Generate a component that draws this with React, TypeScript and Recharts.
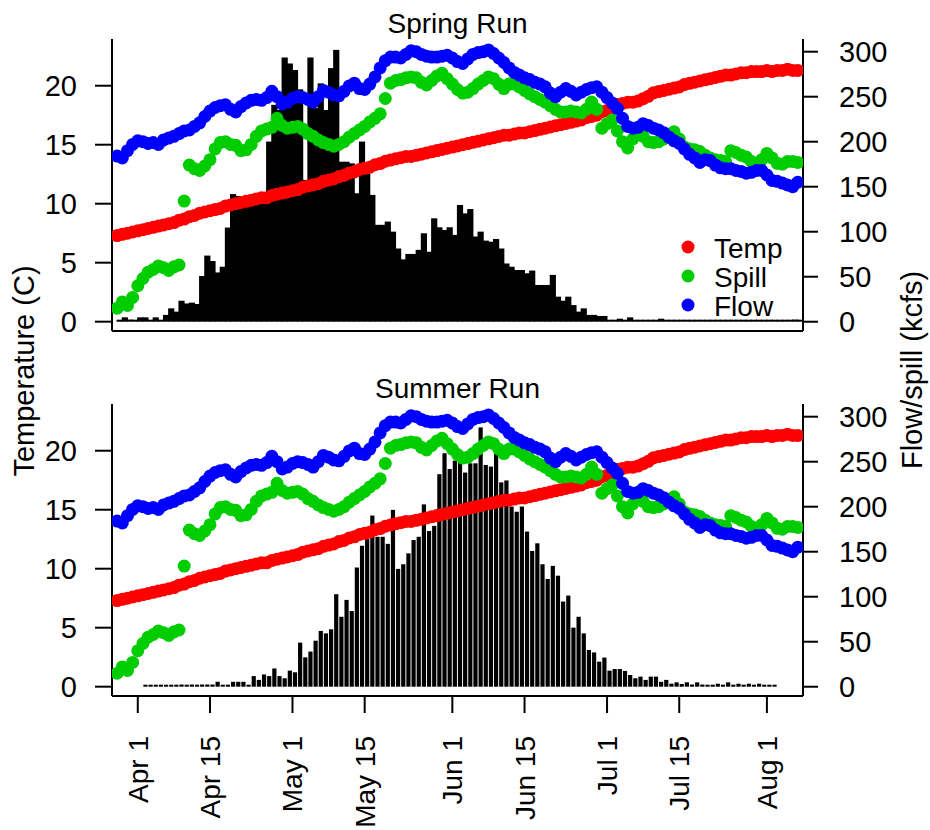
import { Bar, ComposedChart, Legend, Scatter, XAxis, YAxis } from "recharts";

const RED = "#ff0000";
const GREEN = "#00cd00";
const BLUE = "#0000ff";
const FONT = '"Liberation Sans", Arial, Helvetica, sans-serif';

const DAY_MS = 86400000;
// day number counted from Apr 1 (the year plays no role between March and August)
const dayOf = (month: number, day: number) =>
  Math.round((Date.UTC(2001, month - 1, day) - Date.UTC(2001, 3, 1)) / DAY_MS);

const SERIES_START = dayOf(3, 28);
const SUMMER_START = dayOf(4, 2);

const TICK_DATES = [[4, 1], [4, 15], [5, 1], [5, 15], [6, 1], [6, 15], [7, 1], [7, 15], [8, 1]];
const TICK_LABELS = ["Apr 1", "Apr 15", "May 1", "May 15", "Jun 1", "Jun 15", "Jul 1", "Jul 15", "Aug 1"];
const TEMP_TICKS = [0, 5, 10, 15, 20];
const FLOW_TICKS = [0, 50, 100, 150, 200, 250, 300];

// daily river temperature (C), Mar 28 .. Aug 7
const TEMP = [
  7.3, 7.4, 7.5, 7.6, 7.7, 7.8, 7.9, 8.0, 8.1, 8.2,
  8.3, 8.4, 8.6, 8.7, 8.9, 9.0, 9.2, 9.3, 9.4, 9.5,
  9.6, 9.8, 9.9, 10.0, 10.1, 10.2, 10.3, 10.4, 10.5, 10.5,
  10.7, 10.8, 10.9, 11.0, 11.1, 11.2, 11.4, 11.5, 11.6, 11.7,
  11.9, 12.0, 12.1, 12.3, 12.4, 12.6, 12.7, 12.9, 13.0, 13.1,
  13.3, 13.4, 13.6, 13.7, 13.8, 13.9, 14.0, 14.0, 14.1, 14.2,
  14.3, 14.4, 14.5, 14.6, 14.7, 14.8, 14.9, 15.0, 15.1, 15.2,
  15.3, 15.4, 15.5, 15.6, 15.7, 15.8, 15.8, 15.9, 16.0, 16.0,
  16.1, 16.2, 16.3, 16.4, 16.5, 16.6, 16.7, 16.8, 16.9, 17.0,
  17.1, 17.3, 17.4, 17.5, 17.8, 17.9, 18.1, 18.4, 18.5, 18.6,
  18.6, 18.7, 18.9, 19.1, 19.4, 19.5, 19.6, 19.7, 19.8, 19.9,
  20.1, 20.2, 20.3, 20.4, 20.5, 20.6, 20.7, 20.8, 20.9, 20.9,
  21.0, 21.1, 21.1, 21.2, 21.2, 21.2, 21.3, 21.2, 21.3, 21.3,
  21.4, 21.3, 21.3,
];

// daily spill (kcfs)
const SPILL = [
  15, 22, 18, 27, 40, 48, 55, 58, 62, 60,
  57, 61, 63, 134, 174, 170, 168, 173, 180, 192,
  199, 200, 197, 196, 190, 191, 197, 206, 212, 214,
  216, 226, 218, 215, 216, 217, 214, 209, 206, 202,
  199, 197, 195, 197, 200, 205, 209, 213, 217, 222,
  226, 231, 248, 265, 268, 269, 271, 272, 271, 266,
  263, 268, 273, 276, 270, 264, 258, 254, 255, 259,
  264, 268, 272, 270, 264, 259, 264, 264, 261, 257,
  253, 250, 247, 244, 240, 236, 233, 233, 234, 233,
  232, 236, 244, 236, 215, 220, 224, 212, 200, 193,
  203, 211, 206, 200, 199, 200, 203, 207, 211, 203,
  194, 192, 191, 189, 185, 182, 180, 179, 178, 190,
  188, 185, 183, 178, 174, 180, 187, 182, 176, 175,
  178, 178, 177,
];

// daily river flow (kcfs)
const FLOW = [
  184, 182, 190, 197, 201, 200, 198, 199, 197, 202,
  204, 206, 209, 212, 213, 217, 221, 228, 234, 238,
  240, 241, 236, 233, 239, 243, 246, 247, 246, 249,
  256, 250, 242, 244, 248, 250, 249, 247, 244, 250,
  257, 255, 252, 251, 256, 262, 265, 259, 258, 264,
  272, 282, 290, 294, 294, 293, 297, 301, 300, 297,
  295, 294, 294, 295, 296, 293, 289, 287, 292, 297,
  299, 300, 302, 298, 293, 288, 282, 277, 274, 271,
  269, 266, 264, 261, 254, 250, 255, 259, 256, 252,
  255, 258, 260, 261, 255, 249, 243, 237, 226, 217,
  215, 216, 220, 218, 215, 213, 210, 205, 201, 198,
  192, 186, 182, 177, 180, 179, 174, 171, 170, 170,
  168, 167, 165, 166, 168, 168, 163, 157, 156, 154,
  152, 150, 155,
];

// daily spring run passage, % of the peak day, Mar 28 .. Aug 7
const SPRING_PASSAGE = [
  0.6, 1.6, 0.8, 0.6, 1.6, 1.6, 0.6, 1.6, 0.6, 2.5,
  4.9, 3.7, 7.7, 6.7, 7.0, 6.5, 16.8, 24.3, 22.3, 18.1,
  20.2, 34.6, 46.9, 46.2, 44.7, 44.7, 45.2, 46.0, 47.6, 66.2,
  79.7, 77.8, 97.1, 94.9, 92.5, 85.4, 52.1, 97.1, 78.5, 87.6,
  77.8, 93.2, 99.9, 58.8, 58.8, 58.2, 47.2, 66.2, 54.5, 46.6,
  35.6, 35.6, 36.8, 33.1, 26.9, 22.9, 24.9, 24.9, 26.4, 32.5,
  25.7, 38.0, 34.7, 33.7, 34.7, 31.9, 42.9, 39.8, 41.4, 31.3,
  33.1, 29.8, 29.4, 30.4, 26.9, 21.4, 20.2, 19.0, 19.0, 17.8,
  18.8, 13.5, 13.5, 13.5, 17.2, 9.2, 7.7, 9.2, 6.1, 3.7,
  4.9, 2.5, 2.5, 2.1, 2.1, 0.6, 0.6, 1.1, 0, 1.6,
  0, 0, 0, 0, 0, 1.1, 0, 0, 0, 0,
  0, 0, 0, 0, 0, 0, 0, 0, 0, 0.6,
  0, 0.6, 0, 0, 0, 0, 0, 0, 0, 0,
  0, 0.8, 0,
];

// daily summer run passage, % of the spring peak day, Apr 2 .. Aug 2
const SUMMER_PASSAGE = [
  0, 0, 0, 0, 0, 0, 0, 0.8, 0, 0.8,
  0, 0.8, 0.8, 0.8, 1.8, 0, 0, 1.8, 1.8, 1.8,
  0, 3.9, 2.5, 4.5, 3.9, 6.7, 3.9, 3.1, 5.9, 5.3,
  16.2, 10.8, 12.9, 16.9, 20.5, 19.6, 21.1, 34.0, 25.7, 31.9,
  27.8, 43.8, 51.8, 54.3, 62.9, 55.1, 55.1, 52.5, 65.0, 43.3,
  45.0, 49.0, 53.9, 55.1, 67.0, 57.2, 59.1, 78.1, 85.8, 80.0,
  83.1, 82.7, 78.7, 82.1, 82.1, 95.3, 81.5, 80.9, 86.1, 75.1,
  75.8, 66.2, 64.3, 66.2, 57.0, 49.9, 52.7, 45.0, 39.6, 44.4,
  40.8, 31.3, 33.5, 21.7, 25.7, 19.6, 13.5, 12.6, 9.2, 10.7,
  5.9, 6.5, 6.5, 5.8, 4.3, 3.1, 3.7, 2.5, 3.7, 3.7,
  1.8, 2.5, 1.1, 1.6, 1.0, 1.6, 0.8, 1.6, 0.8, 0,
  0, 1.1, 0, 1.6, 0, 1.1, 0, 1.1, 0, 1.1,
  0, 0, 0,
];

const SERIES = [
  { key: "temp", name: "Temp", color: RED, axis: "temp" },
  { key: "spill", name: "Spill", color: GREEN, axis: "flow" },
  { key: "flow", name: "Flow", color: BLUE, axis: "flow" },
];

const TICK_DAYS = TICK_DATES.map(([m, d]) => dayOf(m, d));
const X_DOMAIN = [dayOf(3, 27), dayOf(8, 8)];
// passage bins run from day d to d + 1, so their axis is shifted half a day
const BIN_DOMAIN = [X_DOMAIN[0] - 0.5, X_DOMAIN[1] - 0.5];
const TEMP_DOMAIN = [-0.79, 23.96];
const FLOW_DOMAIN = [-10.3, 314.1];
const PASSAGE_DOMAIN = [-3.42, 103.9];

const PLOT_TOP = 39;
const PLOT_HEIGHT = 292;

interface Row {
  day: number;
  temp: number;
  spill: number;
  flow: number;
  fish: number | null;
}

function buildRows(passage: number[], passageStart: number): Row[] {
  return TEMP.map((temp, i) => {
    const day = SERIES_START + i;
    const k = day - passageStart;
    return {
      day,
      temp,
      spill: SPILL[i],
      flow: FLOW[i],
      fish: k >= 0 && k < passage.length ? passage[k] : null,
    };
  });
}

const axisLine = { stroke: "#000", strokeWidth: 2 };
const tickText = { fontSize: 29, fill: "#000" };

const dot = (color: string) => (props: any) =>
  props.cx == null || props.cy == null ? <g /> : <circle cx={props.cx} cy={props.cy} r={6.5} fill={color} />;

// zero days still leave a thin mark on the baseline, like the original
const binShape = (barWidth: number) => (props: any) => {
  const { x, y, width, height, payload } = props;
  if (payload == null || payload.fish == null || x == null) return <g />;
  const h = Math.max(height || 0, 2);
  const cx = x + (width || 0) / 2;
  return <rect x={cx - barWidth / 2} y={y + (height || 0) - h} width={barWidth} height={h} fill="#000" />;
};

const renderDateTick = (props: any) => {
  const { x, y, payload } = props;
  const label = TICK_LABELS[TICK_DAYS.indexOf(payload.value)];
  return (
    <text transform={`translate(${x + 10},${y + 23}) rotate(-90)`} textAnchor="end" fontSize={28} fill="#000">
      {label}
    </text>
  );
};

const renderLegend = () => (
  <svg width={150} height={110}>
    {SERIES.map((s, i) => (
      <g key={s.key}>
        <circle cx={28} cy={27 + i * 29} r={6.5} fill={s.color} />
        <text x={54} y={37.5 + i * 29} fontSize={28} fill="#000">
          {s.name}
        </text>
      </g>
    ))}
  </svg>
);

interface PanelProps {
  rows: Row[];
  top: number;
  height: number;
  dates?: boolean;
  barWidth: number;
  legend?: boolean;
}

function RunPanel({ rows, top, height, dates = false, barWidth, legend = false }: PanelProps) {
  return (
    <div style={{ position: "absolute", left: 0, top }}>
      <ComposedChart width={930} height={height} data={rows} margin={{ top: PLOT_TOP, right: 0, bottom: 0, left: 0 }}>
        <XAxis
          xAxisId="date"
          dataKey="day"
          type="number"
          domain={X_DOMAIN}
          allowDataOverflow
          ticks={dates ? TICK_DAYS : []}
          interval={0}
          height={height - PLOT_TOP - PLOT_HEIGHT}
          axisLine={axisLine}
          tickLine={dates ? axisLine : false}
          tickSize={17}
          tickMargin={0}
          tick={dates ? renderDateTick : false}
        />
        <XAxis xAxisId="bins" dataKey="day" type="number" domain={BIN_DOMAIN} allowDataOverflow hide height={0} />
        <YAxis
          yAxisId="temp"
          orientation="left"
          width={112}
          domain={TEMP_DOMAIN}
          allowDataOverflow
          ticks={TEMP_TICKS}
          interval={0}
          axisLine={axisLine}
          tickLine={axisLine}
          tickSize={17}
          tickMargin={18}
          tick={tickText}
        />
        <YAxis
          yAxisId="flow"
          orientation="right"
          width={127}
          domain={FLOW_DOMAIN}
          allowDataOverflow
          ticks={FLOW_TICKS}
          interval={0}
          axisLine={axisLine}
          tickLine={axisLine}
          tickSize={15}
          tickMargin={21}
          tick={tickText}
        />
        <YAxis yAxisId="fish" hide width={0} domain={PASSAGE_DOMAIN} allowDataOverflow />
        <Bar
          xAxisId="bins"
          yAxisId="fish"
          dataKey="fish"
          fill="#000"
          barSize={5}
          shape={binShape(barWidth)}
          legendType="none"
          isAnimationActive={false}
        />
        {SERIES.map((s) => (
          <Scatter
            key={s.key}
            name={s.name}
            xAxisId="date"
            yAxisId={s.axis}
            dataKey={s.key}
            fill={s.color}
            shape={dot(s.color)}
            isAnimationActive={false}
          />
        ))}
        {legend && (
          <Legend
            content={renderLegend}
            layout="vertical"
            align="center"
            verticalAlign="middle"
            wrapperStyle={{ left: 660, top: 220, width: 150, height: 110 }}
          />
        )}
      </ComposedChart>
    </div>
  );
}

export default function App() {
  const springRows = buildRows(SPRING_PASSAGE, SERIES_START);
  const summerRows = buildRows(SUMMER_PASSAGE, SUMMER_START);
  return (
    <div style={{ position: "absolute", left: 0, top: 0, width: 930, height: 830, background: "#fff", fontFamily: FONT }}>
      <RunPanel rows={springRows} top={0} height={340} barWidth={6.2} legend />
      <RunPanel rows={summerRows} top={365} height={465} barWidth={4.2} dates />
      <svg width={930} height={830} style={{ position: "absolute", left: 0, top: 0, pointerEvents: "none" }}>
        <g fill="#000">
          <text x={457.5} y={33} textAnchor="middle" fontSize={28}>Spring Run</text>
          <text x={457.5} y={398} textAnchor="middle" fontSize={28}>Summer Run</text>
          <text transform="translate(34,371) rotate(-90)" textAnchor="middle" fontSize={29}>Temperature (C)</text>
          <text transform="translate(922,370) rotate(-90)" textAnchor="middle" fontSize={29}>Flow/spill (kcfs)</text>
        </g>
      </svg>
    </div>
  );
}
